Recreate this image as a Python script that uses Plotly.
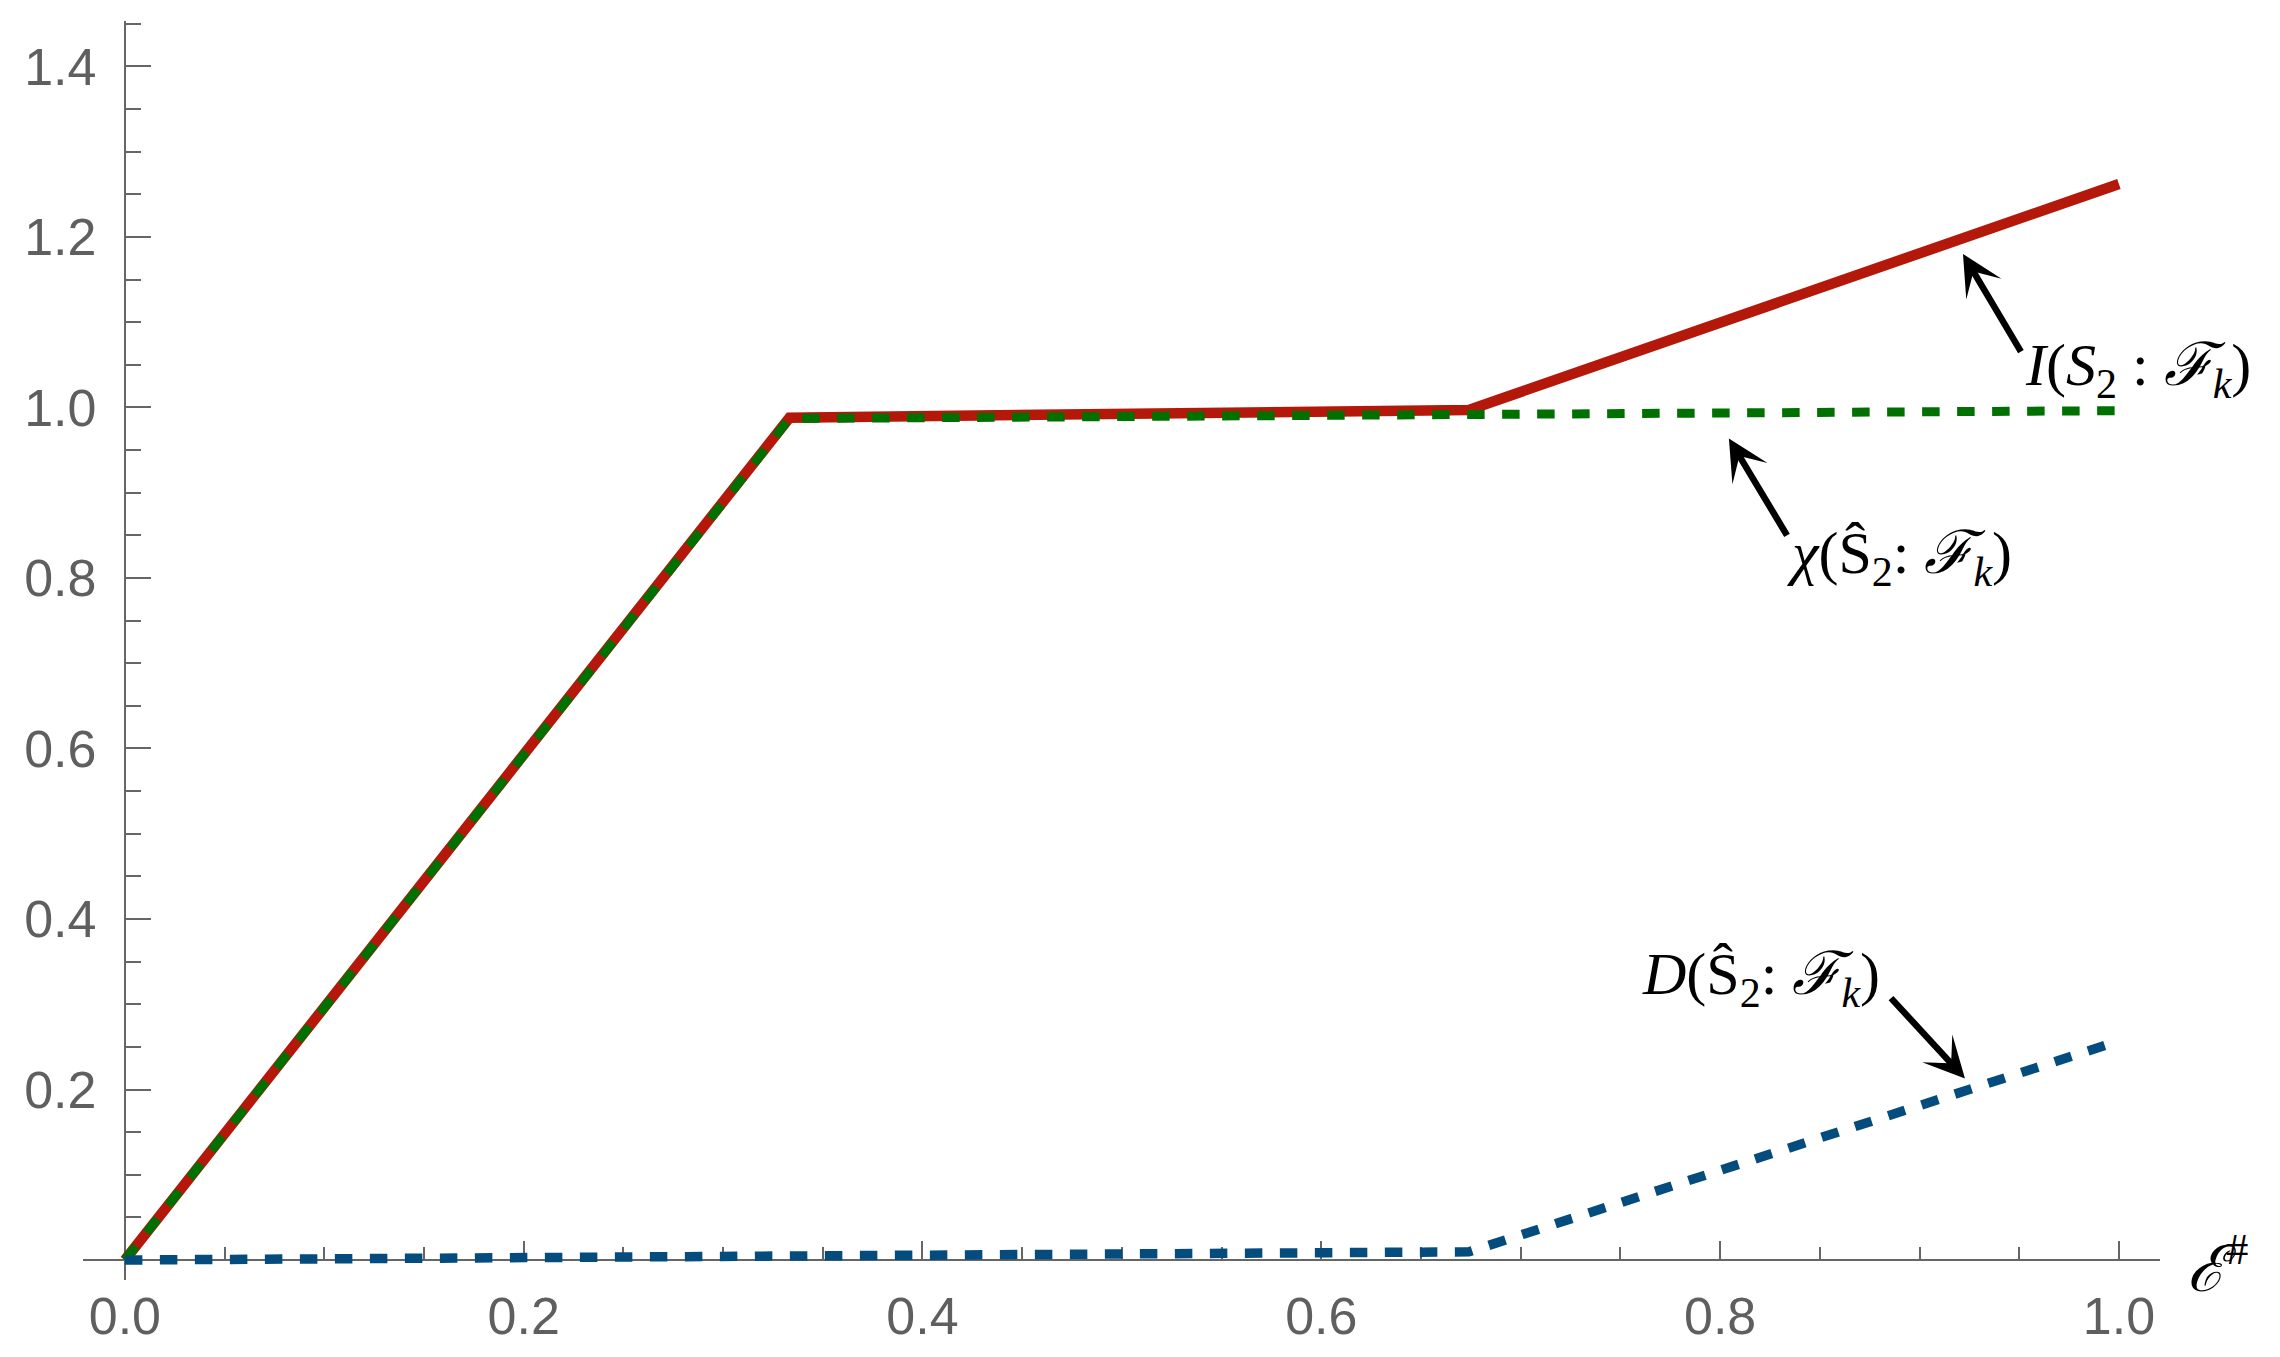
import plotly.graph_objects as go

# ---- data ----
x_tick_vals = [0.0, 0.2, 0.4, 0.6, 0.8, 1.0]
x_tick_text = ["0.0", "0.2", "0.4", "0.6", "0.8", "1.0"]
y_tick_vals = [0.2, 0.4, 0.6, 0.8, 1.0, 1.2, 1.4]
y_tick_text = ["0.2", "0.4", "0.6", "0.8", "1.0", "1.2", "1.4"]

mutual_x = [0.0, 0.3333, 0.674, 1.0]          # I(S2 : Fk)
mutual_y = [0.0, 0.988, 0.997, 1.262]
chi_x = [0.0, 0.3333, 1.0]                    # chi(S2 : Fk)
chi_y = [0.0, 0.987, 0.9962]
disc_x = [0.0, 0.674, 1.0]                    # D(S2 : Fk)
disc_y = [0.0, 0.0096, 0.257]

X_RANGE = [-0.021, 1.0206]
Y_RANGE = [-0.0234, 1.4532]

AXIS_COLOR = "#666666"
LABEL_COLOR = "#5f5f5f"
TICK_FONT = dict(family="Liberation Sans, Arial, sans-serif", size=52, color=LABEL_COLOR)
MATH_FONT = dict(family="Liberation Serif, Times New Roman, serif", size=60, color="black")

fig = go.Figure()
fig.add_trace(go.Scatter(x=mutual_x, y=mutual_y, mode="lines",
                         line=dict(color="#B3180A", width=10.5), showlegend=False))
fig.add_trace(go.Scatter(x=chi_x, y=chi_y, mode="lines",
                         line=dict(color="#007000", width=9, dash="17.5px,17.5px"), showlegend=False))
fig.add_trace(go.Scatter(x=disc_x, y=disc_y, mode="lines",
                         line=dict(color="#054C7E", width=9.5, dash="17.5px,17.5px"), showlegend=False))

xpos = (0 - Y_RANGE[0]) / (Y_RANGE[1] - Y_RANGE[0])
ypos = (0 - X_RANGE[0]) / (X_RANGE[1] - X_RANGE[0])

# the page body adds an 8px offset, so the figure is 8px smaller than the window
fig.update_layout(
    width=2272, height=1349,
    margin=dict(l=75, r=120, t=13, b=69, pad=0),
    paper_bgcolor="white", plot_bgcolor="white",
    showlegend=False,
    xaxis=dict(range=X_RANGE, anchor="free", position=xpos, showline=True,
               linecolor=AXIS_COLOR, linewidth=2, showgrid=False, zeroline=False,
               ticks="inside", ticklen=18, tickwidth=2, tickcolor=AXIS_COLOR,
               tickmode="array", tickvals=x_tick_vals, ticktext=x_tick_text,
               tickfont=TICK_FONT, ticklabelstandoff=11,
               minor=dict(dtick=0.05, tick0=0, ticks="inside", ticklen=12,
                          tickwidth=2, tickcolor=AXIS_COLOR, showgrid=False),
               layer="below traces"),
    yaxis=dict(range=Y_RANGE, anchor="free", position=ypos, showline=True,
               linecolor=AXIS_COLOR, linewidth=2, showgrid=False, zeroline=False,
               ticks="inside", ticklen=25, tickwidth=2, tickcolor=AXIS_COLOR,
               tickmode="array", tickvals=y_tick_vals, ticktext=y_tick_text,
               tickfont=TICK_FONT, ticklabelstandoff=17,
               minor=dict(dtick=0.05, tick0=0, ticks="inside", ticklen=15,
                          tickwidth=2, tickcolor=AXIS_COLOR, showgrid=False),
               layer="below traces"),
)

# text labels
fig.add_annotation(x=1.0448, y=1.044, xref="paper", yref="y",
                   text="<i>I</i>(<i>S</i><sub>2</sub> : <i>ℱ</i><sub><i>k</i></sub>)",
                   showarrow=False, xanchor="right", yanchor="middle", font=MATH_FONT)
fig.add_annotation(x=0.8325, y=0.824, xref="x", yref="y",
                   text="<i>χ</i>(Ŝ<sub>2</sub>: <i>ℱ</i><sub><i>k</i></sub>)",
                   showarrow=False, xanchor="left", yanchor="middle", font=MATH_FONT)
fig.add_annotation(x=0.7598, y=0.330, xref="x", yref="y",
                   text="<i>D</i>(Ŝ<sub>2</sub>: <i>ℱ</i><sub><i>k</i></sub>)",
                   showarrow=False, xanchor="left", yanchor="middle", font=MATH_FONT)

# axis label (paper coordinates, just right of the x-axis end)
fig.add_annotation(x=1.012, y=0.012, xref="paper", yref="paper", text="<i>ℰ</i><sup>#</sup>",
                   showarrow=False, xanchor="left", yanchor="middle",
                   font=dict(family="Liberation Serif, Times New Roman, serif", size=64, color="black"))

# arrows (head at x,y ; tail at ax,ay)
arrows = [
    (0.9218, 1.180, 0.9513, 1.0636),
    (0.8044, 0.9635, 0.834, 0.8482),
    (0.9228, 0.213, 0.885, 0.309),
]
for hx, hy, tx, ty in arrows:
    fig.add_annotation(x=hx, y=hy, ax=tx, ay=ty, xref="x", yref="y", axref="x", ayref="y",
                       text="", showarrow=True, arrowhead=3, arrowsize=1.05, arrowwidth=6.5,
                       arrowcolor="black", standoff=0, startstandoff=0)

fig.write_html("out.html")
